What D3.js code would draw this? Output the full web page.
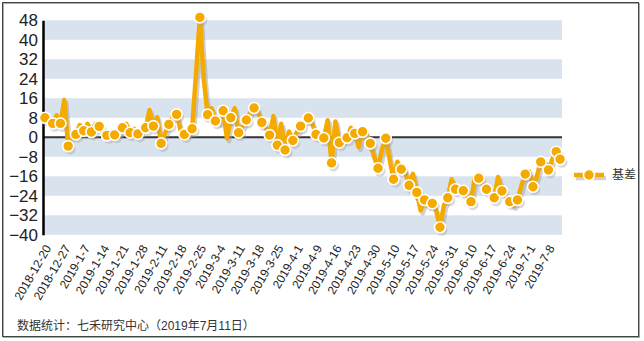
<!DOCTYPE html>
<html><head><meta charset="utf-8">
<script src="https://cdn.jsdelivr.net/npm/d3@7"></script>
<style>
html,body{margin:0;padding:0;background:#fff;}
svg{display:block;}
</style></head>
<body>
<svg id="chart" width="644" height="341"></svg>
<script>
// Series: 基差 (basis), trading days 2018-12-20 .. 2019-7-11
const values = [
  8.0, 7, 5.7, 9, 5.7, 15.3, -3.6, 1.5, 1.2, 5,
  2.7, 5.5, 2.2, 5.5, 4.5, 3, 0.8, 1, 1.0, 1.5,
  3.9, 5.5, 1.9, 3.5, 1.4, 3.5, 3.9, 11.2, 4.6, 8.2,
  -2.5, 1.7, 5.3, 8.5, 9.4, 3, 1.2, 1.5, 3.5, 26,
  49.2, 24, 9.3, 11.9, 6.7, 6, 10.9, -0.4, 8.0, 11.9,
  1.9, 4.5, 7.1, 10, 12.0, 10.5, 6.1, 4.2, 0.9, 8.7,
  -3.2, 5.5, -5.2, 2.4, -1.3, 2, 4.6, 6.5, 7.9, 5.7,
  1.2, 1, -0.3, 7, -10.5, 6.5, -2.2, -1, -0.2, 3.9,
  1.6, -4, 2.3, 1, -2.5, -8, -12.7, -5, -0.4, -9,
  -17.2, -10, -13.1, -14, -19.7, -15, -22.6, -30, -25.7, -28,
  -27.1, -30, -36.9, -28, -24.8, -17.2, -21.3, -22, -21.9, -24,
  -26.4, -16.3, -16.8, -19, -21.3, -23, -24.8, -16.3, -22.0, -24,
  -26.4, -28, -25.7, -20, -15.1, -14, -20.3, -16, -10.1, -10,
  -13.4, -9, -5.9, -9.0
];
const tickLabels = ["2018-12-20","2018-12-27","2019-1-7","2019-1-14","2019-1-21","2019-1-28",
  "2019-2-11","2019-2-18","2019-2-25","2019-3-4","2019-3-11","2019-3-18","2019-3-25",
  "2019-4-1","2019-4-9","2019-4-16","2019-4-23","2019-4-30","2019-5-10","2019-5-17",
  "2019-5-24","2019-5-31","2019-6-10","2019-6-17","2019-6-24","2019-7-1","2019-7-8"];
const tickStep = 5;
const yTicks = [48,40,32,24,16,8,0,-8,-16,-24,-32,-40];
const seriesName = "基差";
const footer = "数据统计：七禾研究中心（2019年7月11日）";

(function(){
const orange = "#f5aa00";
const band = "#d9e3ee";
const svg = d3.select("#chart");
const pLeft = 43, pRight = 562, pTop = 20.3, pBottom = 234.8;

// outer frame
svg.append("rect").attr("x",3.5).attr("y",3.5).attr("width",636).attr("height",334)
  .attr("fill","none").attr("stroke","#aaa").attr("stroke-width",1);
svg.append("rect").attr("x",2.5).attr("y",2.5).attr("width",636).attr("height",334)
  .attr("fill","none").attr("stroke","#444").attr("stroke-width",1);

const x = d3.scaleBand().domain(d3.range(values.length)).range([pLeft, pRight]);
const xc = i => x(i) + x.bandwidth()/2;
const y = d3.scaleLinear().domain([-40, 48]).range([pBottom, pTop]);

// alternating bands
const bandPairs = d3.range(yTicks.length-1).map(k => [yTicks[k+1], yTicks[k]]);
svg.append("g").selectAll("rect").data(bandPairs.filter((d,k)=>k%2===0)).join("rect")
  .attr("x", pLeft).attr("width", pRight-pLeft)
  .attr("y", d => y(d[1])).attr("height", d => y(d[0]) - y(d[1]))
  .attr("fill", band);

// zero line
svg.append("line").attr("x1",pLeft).attr("x2",pRight).attr("y1",y(0)).attr("y2",y(0))
  .attr("stroke","#333").attr("stroke-width",2);

// y axis
const yAxis = d3.axisLeft(y).tickValues(yTicks).tickSize(0).tickPadding(5);
const ya = svg.append("g").attr("transform",`translate(${pLeft},0)`).call(yAxis);
ya.select(".domain").attr("stroke","#000").attr("stroke-width",2.5);
ya.selectAll("text").attr("font-family","'Liberation Sans', Arial, sans-serif")
  .attr("font-size",17).attr("fill","#222");

// x axis labels
const xAxis = d3.axisBottom(x)
  .tickValues(d3.range(0, values.length, tickStep))
  .tickFormat(i => tickLabels[i/tickStep] || "").tickSize(0);
const xa = svg.append("g").attr("transform",`translate(0,${pBottom})`).call(xAxis);
xa.select(".domain").remove();
xa.selectAll("text").attr("font-family","'Liberation Sans', Arial, sans-serif")
  .attr("font-size",12).attr("fill","#222")
  .attr("text-anchor","end").attr("dy","0.35em").attr("y",0)
  .attr("transform","translate(3,11) rotate(-60)");

// line + shadow
const line = d3.line().x((d,i)=>xc(i)).y(d=>y(d)).curve(d3.curveLinear);
svg.append("path").datum(values).attr("d",line).attr("fill","none")
  .attr("stroke","#999").attr("stroke-opacity",0.45).attr("stroke-width",4.5)
  .attr("stroke-linejoin","round").attr("transform","translate(2,3)");
svg.append("path").datum(values).attr("d",line).attr("fill","none")
  .attr("stroke",orange).attr("stroke-width",4.5).attr("stroke-linejoin","round");

// markers
const mk = values.map((v,i)=>({v,i})).filter(d => d.i%2===0 || d.i===values.length-1);
svg.append("g").selectAll("circle").data(mk).join("circle")
  .attr("cx", d=>xc(d.i)+2).attr("cy", d=>y(d.v)+3).attr("r",5.5)
  .attr("fill","#999").attr("fill-opacity",0.35);
svg.append("g").selectAll("circle").data(mk).join("circle")
  .attr("cx", d=>xc(d.i)).attr("cy", d=>y(d.v)).attr("r",5.5)
  .attr("fill",orange).attr("stroke","#fff").attr("stroke-width",1.6);

// legend
const lg = svg.append("g");
lg.append("line").attr("x1",576).attr("x2",606).attr("y1",178).attr("y2",178)
  .attr("stroke","#999").attr("stroke-opacity",0.45).attr("stroke-width",4.5);
lg.append("line").attr("x1",574).attr("x2",604).attr("y1",175).attr("y2",175)
  .attr("stroke",orange).attr("stroke-width",4.5);
lg.append("circle").attr("cx",589).attr("cy",175).attr("r",5.5)
  .attr("fill",orange).attr("stroke","#fff").attr("stroke-width",1.6);
lg.append("text").attr("x",612).attr("y",175).attr("dy","0.35em")
  .attr("font-family","'Noto Sans CJK SC', sans-serif").attr("font-size",12)
  .attr("fill","#333").text(seriesName);

// footer
svg.append("text").attr("x",17).attr("y",326).attr("dy","0.35em")
  .attr("font-family","'Liberation Sans', 'Noto Sans CJK SC', sans-serif").attr("font-size",12)
  .attr("fill","#333").text(footer);
})();
</script>
</body></html>
